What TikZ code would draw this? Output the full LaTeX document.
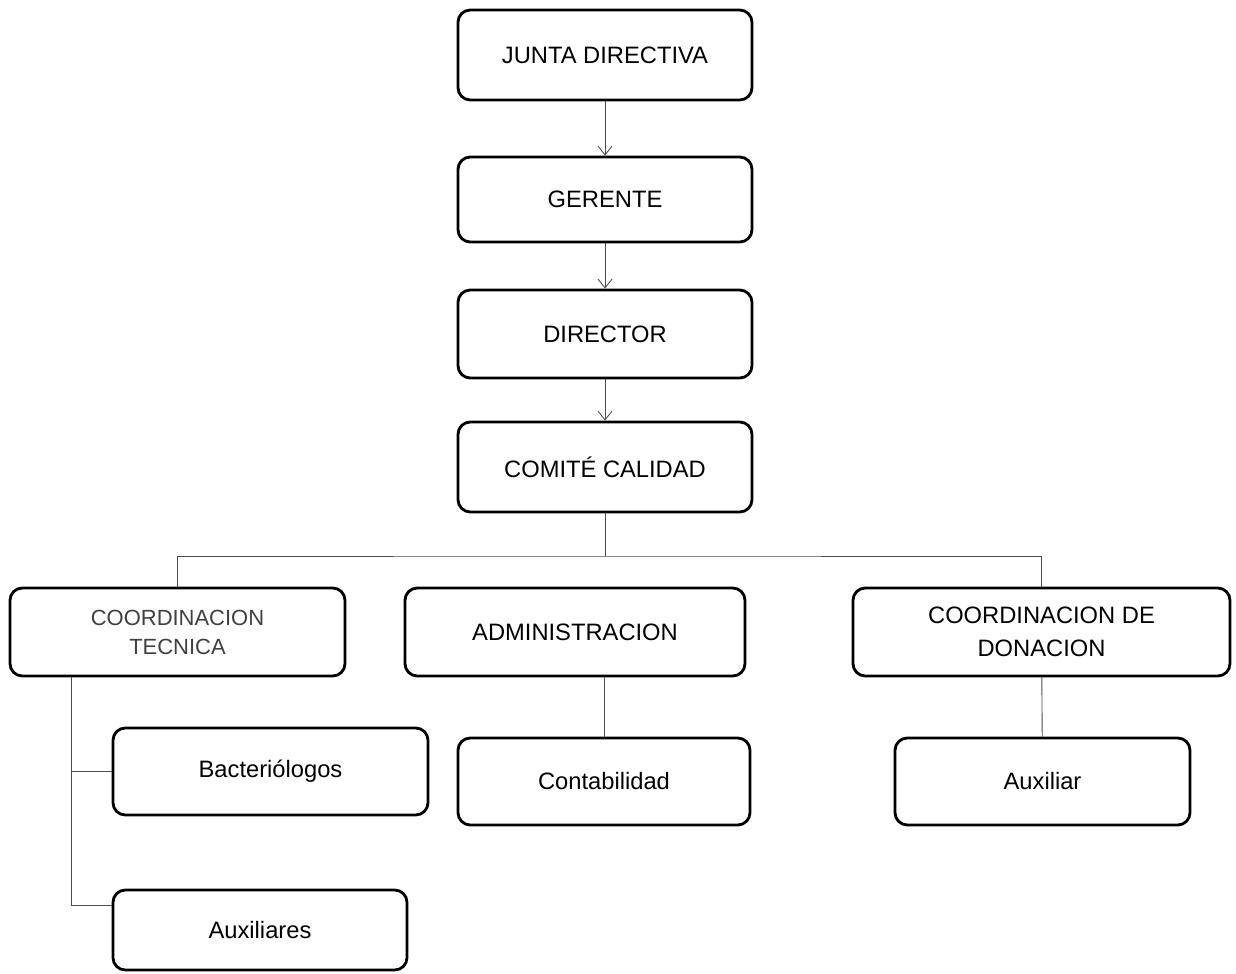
\documentclass[tikz,border=0pt]{standalone}
\usepackage{fontspec}
\setmainfont{Liberation Sans}
\usepackage{tikz}
\usetikzlibrary{arrows.meta,positioning,calc}

\begin{document}
\begin{tikzpicture}[font=\fontsize{13.5}{16}\selectfont]
    \tikzset{orgbox/.style={rectangle, rounded corners=7pt, draw, line width=1.6pt,
      minimum width=5.88cm, minimum height=1.76cm, align=center, fill=white}}
    \tikzset{link/.style={draw=black!70, line width=0.5pt}}
    \tikzset{linkarrow/.style={link, -{Straight Barb[length=5pt, width=8pt]}}}

    \useasboundingbox (0,0) rectangle (24.72,-19.46);

    % Main line
    \node[orgbox, minimum height=1.8cm] (junta) at (12.1,-1.1) {JUNTA DIRECTIVA};
    \node[orgbox, minimum height=1.7cm] (gerente) at (12.1,-3.99) {GERENTE};
    \node[orgbox] (director) at (12.1,-6.68) {DIRECTOR};
    \node[orgbox, minimum height=1.8cm] (comite) at (12.1,-9.34) {COMITÉ CALIDAD};

    \draw[linkarrow] (junta) -- (gerente);
    \draw[linkarrow] (gerente) -- (director);
    \draw[linkarrow] (director) -- (comite);

    % Coordinations
    \node[orgbox, minimum width=6.7cm, text=black!75,
          font=\fontsize{12.5}{16.5}\selectfont] (coordtec) at (3.55,-12.64)
      {COORDINACION\\TECNICA};
    \node[orgbox, minimum width=6.8cm] (admin) at (11.5,-12.64) {ADMINISTRACION};
    \node[orgbox, minimum width=7.54cm, font=\fontsize{13.5}{19}\selectfont]
      (coorddon) at (20.83,-12.64) {COORDINACION DE\\DONACION};

    \coordinate (bar) at (12.1,-11.12);
    \draw[link] (comite) -- (bar);
    \draw[link] (coordtec.north) |- (bar) -| (coorddon.north);

    % Staff boxes
    \node[orgbox, minimum width=6.3cm, minimum height=1.74cm] (bacterio) at (5.41,-15.43)
      {Bacteriólogos};
    \node[orgbox, minimum width=5.88cm, minimum height=1.6cm] (auxs) at (5.2,-18.6)
      {Auxiliares};
    \node[orgbox, minimum width=5.84cm, minimum height=1.74cm] (contab) at (12.08,-15.63)
      {Contabilidad};
    \node[orgbox, minimum width=5.9cm, minimum height=1.74cm] (auxiliar) at (20.85,-15.63)
      {Auxiliar};

    \coordinate (spine) at ($(coordtec.south west)+(1.26,0)$);
    \draw[link] (spine) |- (bacterio.west);
    \draw[link] (spine) |- ([yshift=0.5cm]auxs.west);
    \draw[link] (contab.north |- admin.south) -- (contab.north);
    \draw[link] (coorddon) -- (auxiliar);
  \end{tikzpicture}
\end{document}
